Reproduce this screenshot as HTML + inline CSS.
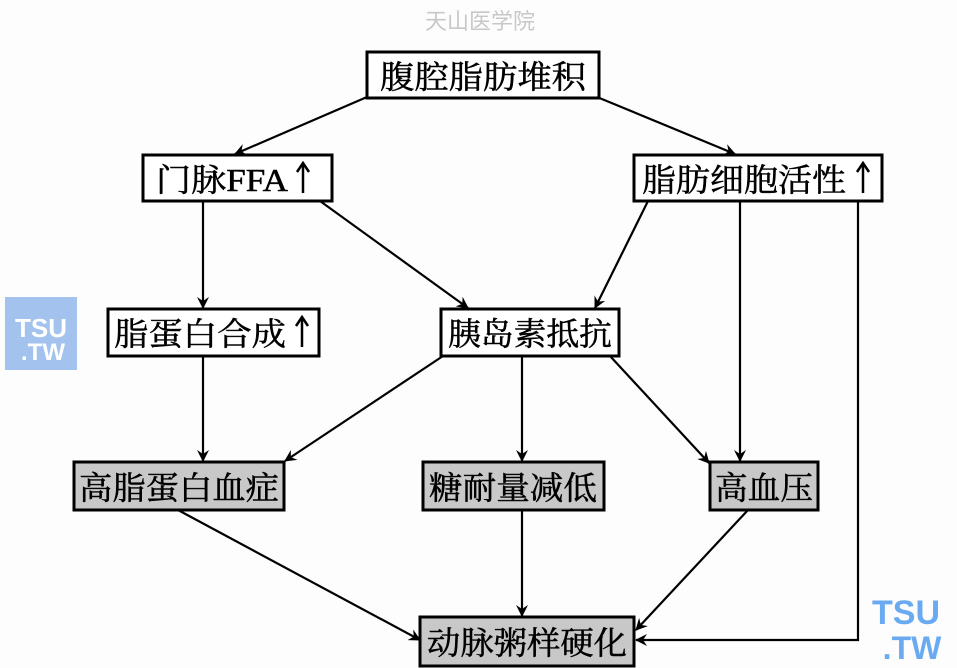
<!DOCTYPE html>
<html><head><meta charset="utf-8"><style>
html,body{margin:0;padding:0;background:#fdfdfd;}
svg{display:block;}
text{font-family:"Liberation Serif","Noto Serif CJK SC",serif;font-size:32px;fill:#000;stroke:#000;stroke-width:0.5;}
</style></head><body>
<svg width="957" height="668" viewBox="0 0 957 668" xmlns="http://www.w3.org/2000/svg">
<defs>
<marker id="a" viewBox="0 0 12 12" refX="11" refY="6" markerWidth="12" markerHeight="12" markerUnits="userSpaceOnUse" orient="auto">
<path d="M0,0 L12,6 L0,12 L4,6 z" fill="#000"/>
</marker>
</defs>
<rect width="957" height="668" fill="#fdfdfd"/>
<text x="480" y="29" text-anchor="middle" style="font-size:22px;fill:#c8c8c8;stroke:none;font-family:'Noto Sans CJK SC',sans-serif">天山医学院</text>
<rect x="5" y="297" width="72" height="73" fill="#a3c2ee"/>
<text x="41" y="337" text-anchor="middle" style="font-family:'Liberation Sans',sans-serif;font-weight:bold;font-size:26px;fill:#fff;stroke:none">TSU</text>
<text x="43" y="360" text-anchor="middle" style="font-family:'Liberation Sans',sans-serif;font-weight:bold;font-size:24px;fill:#fff;stroke:none">.TW</text>
<text x="906" y="624" text-anchor="middle" style="font-family:'Liberation Sans',sans-serif;font-weight:bold;font-size:34px;fill:#6aaaf0;stroke:none">TSU</text>
<text x="912" y="659" text-anchor="middle" style="font-family:'Liberation Sans',sans-serif;font-weight:bold;font-size:32px;fill:#6aaaf0;stroke:none">.TW</text>
<g stroke="#000" stroke-width="3" fill="#fff">
<rect x="367" y="52" width="232" height="46"/>
<rect x="143" y="155" width="189" height="46"/>
<rect x="634" y="155" width="248" height="46"/>
<rect x="108" y="309" width="211" height="47"/>
<rect x="441" y="309" width="178" height="47"/>
<rect x="74" y="462" width="210" height="48" fill="#c8c8c8"/>
<rect x="423" y="462" width="181" height="48" fill="#c8c8c8"/>
<rect x="710" y="462" width="108" height="48" fill="#c8c8c8"/>
<rect x="420" y="617" width="214" height="49" fill="#c8c8c8"/>
</g>
<g stroke="#000" stroke-width="2.2" fill="none" marker-end="url(#a)">
<line x1="367" y1="97" x2="235" y2="154"/>
<line x1="597" y1="97" x2="735" y2="154"/>
<line x1="203" y1="201" x2="203" y2="308"/>
<line x1="320" y1="201" x2="468" y2="308"/>
<line x1="648" y1="201" x2="595" y2="308"/>
<line x1="740" y1="201" x2="740" y2="461"/>
<polyline points="858,201 858,640 636,640"/>
<line x1="203" y1="356" x2="203" y2="461"/>
<line x1="443" y1="356" x2="285" y2="461"/>
<line x1="522" y1="356" x2="522" y2="461"/>
<line x1="610" y1="356" x2="709" y2="463"/>
<line x1="178" y1="510" x2="420" y2="640"/>
<line x1="522" y1="510" x2="522" y2="616"/>
<line x1="748" y1="510" x2="636" y2="630"/>
</g>
<g stroke="#000" stroke-width="2.5" fill="none">
<line x1="303" y1="193" x2="303" y2="165"/><polyline points="297,172 303,163 309,172"/>
<line x1="863" y1="193" x2="863" y2="165"/><polyline points="857,172 863,163 869,172"/>
<line x1="302" y1="347" x2="302" y2="319"/><polyline points="296,326 302,317 308,326"/>
</g>
<text x="483" y="88" text-anchor="middle" textLength="206" lengthAdjust="spacingAndGlyphs">腹腔脂肪堆积</text>
<text x="156" y="191" textLength="132" lengthAdjust="spacingAndGlyphs">门脉FFA</text>
<text x="642" y="191" textLength="204" lengthAdjust="spacingAndGlyphs">脂肪细胞活性</text>
<text x="114" y="345" textLength="172" lengthAdjust="spacingAndGlyphs">脂蛋白合成</text>
<text x="530" y="345" text-anchor="middle" textLength="164" lengthAdjust="spacingAndGlyphs">胰岛素抵抗</text>
<text x="179" y="499" text-anchor="middle" textLength="200" lengthAdjust="spacingAndGlyphs">高脂蛋白血症</text>
<text x="513" y="499" text-anchor="middle" textLength="168" lengthAdjust="spacingAndGlyphs">糖耐量减低</text>
<text x="764" y="499" text-anchor="middle" textLength="98" lengthAdjust="spacingAndGlyphs">高血压</text>
<text x="527" y="654" text-anchor="middle" textLength="200" lengthAdjust="spacingAndGlyphs">动脉粥样硬化</text>
</svg>
</body></html>
